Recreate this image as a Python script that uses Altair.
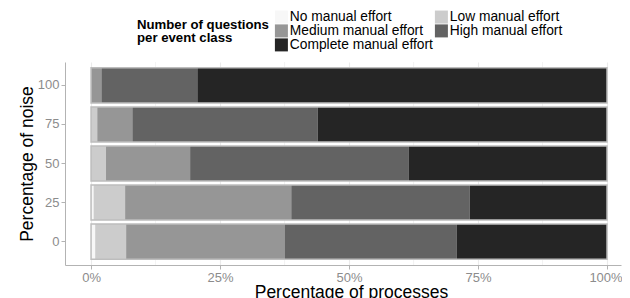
import altair as alt
import pandas as pd

noise = ["0", "25", "50", "75", "100"]
levels = ["No manual effort", "Low manual effort", "Medium manual effort",
          "High manual effort", "Complete manual effort"]
no_effort = [0.8, 0.5, 0.0, 0.0, 0.0]
low_effort = [6.0, 6.1, 2.9, 1.2, 0.0]
medium_effort = [30.7, 32.2, 16.3, 6.8, 2.0]
high_effort = [33.4, 34.6, 42.4, 35.9, 18.6]
complete_effort = [29.1, 26.6, 38.4, 56.1, 79.4]
colors = ["#f7f7f7", "#cccccc", "#969696", "#636363", "#252525"]
x_ticks = [0, 0.25, 0.5, 0.75, 1.0]
minor_grid = [0.125, 0.375, 0.625, 0.875]

series = [no_effort, low_effort, medium_effort, high_effort, complete_effort]
rows = []
for li, (lev, vals) in enumerate(zip(levels, series)):
    for n, v in zip(noise, vals):
        rows.append({"noise": n, "level": lev, "order": li, "frac": v / 100.0})
df = pd.DataFrame(rows)

# legend is filled column by column; this order puts the entries as in the reference
legend_order = [0, 2, 4, 1, 3]
leg_domain = [levels[i] for i in legend_order]
leg_range = [colors[i] for i in legend_order]

FONT = "Liberation Sans"
xscale = alt.Scale(domain=[-0.0505, 1.0271], nice=False, zero=False)
yscale = alt.Scale(domain=noise[::-1], paddingInner=0.1, paddingOuter=0.15)


def x_axis():
    return alt.Axis(values=x_ticks, format=".0%", title="Percentage of processes",
                    grid=True, gridColor="#ebebeb", gridWidth=1.1,
                    labelOffset=alt.expr("datum.value >= 1 ? -1.5 : 0"),
                    titleX=286, titleY=32, titleBaseline="alphabetic")


grid = alt.Chart(pd.DataFrame({"frac": minor_grid})).mark_rule(
    color="#ebebeb", strokeWidth=0.6
).encode(x=alt.X("frac:Q", scale=xscale, axis=x_axis()))

bars = alt.Chart(df).mark_bar().encode(
    x=alt.X("frac:Q", stack="zero", scale=xscale, axis=x_axis()),
    y=alt.Y("noise:N", scale=yscale, sort=noise[::-1],
            axis=alt.Axis(title="Percentage of noise", titleX=-33, titleY=101.5,
                          titleAngle=270, titleBaseline="alphabetic", titleAlign="center")),
    color=alt.Color("level:N", scale=alt.Scale(domain=leg_domain, range=leg_range),
                    legend=alt.Legend(
                        orient="none", legendX=72, legendY=-52, columns=2,
                        title=["Number of questions", "per event class"],
                        titleOrient="left", titleFontSize=13.2, titleFontWeight="bold",
                        titleColor="black", titleFont=FONT, titlePadding=5.5,
                        titleLineHeight=12.5,
                        labelFontSize=13.8, labelFont=FONT, labelColor="black",
                        symbolType="square", symbolSize=169, symbolStrokeWidth=0,
                        symbolOpacity=1, rowPadding=-1.5, columnPadding=1, labelOffset=1.5)),
    order=alt.Order("order:Q"),
)

outline = alt.Chart(df).mark_bar(fillOpacity=0, stroke="#bdbdbd", strokeWidth=1.5).encode(
    x=alt.X("sum(frac):Q", scale=xscale, axis=x_axis()),
    y=alt.Y("noise:N", scale=yscale, sort=noise[::-1]),
)

chart = alt.layer(grid, bars, outline).properties(
    width=556, height=203,
    autosize=alt.AutoSizeParams(type="none"),
    padding={"left": 57, "top": 54, "right": 1, "bottom": 34},
).configure_view(stroke=None).configure_axis(
    domainColor="#b3b3b3", tickColor="#b3b3b3", tickSize=4,
    labelFont=FONT, labelFontSize=13, labelColor="#8c8c8c",
    titleFont=FONT, titleFontSize=17.5, titleFontWeight="normal", titleColor="black",
    labelPadding=2,
)

chart.save("out.html", embed_options={"renderer": "svg", "actions": False})
